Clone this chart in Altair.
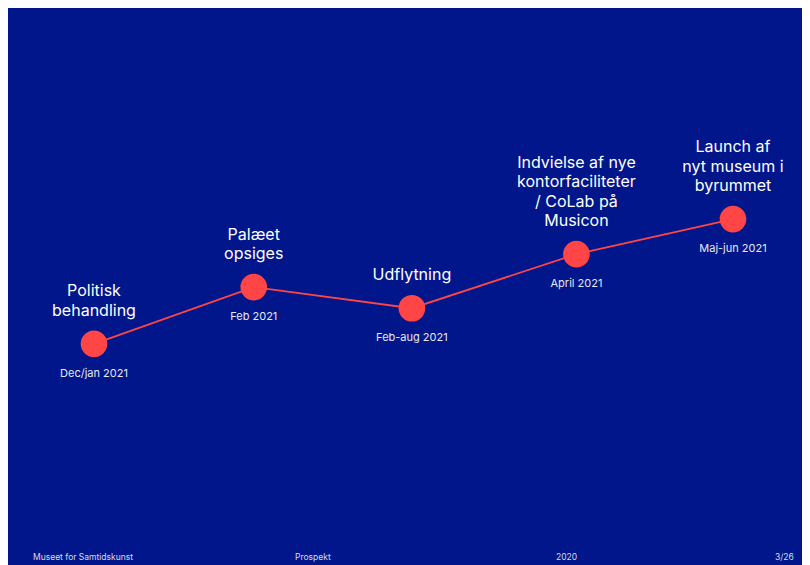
import altair as alt
import pandas as pd

# Milestones on the timeline
steps = [0, 1.0, 1.99, 3.02, 4]
progress = [39.7, 49.9, 46.1, 55.8, 62.1]
titles = [
    "Politisk\nbehandling",
    "Palæet\nopsiges",
    "Udflytning",
    "Indvielse af nye\nkontorfaciliteter\n/ CoLab på\nMusicon",
    "Launch af\nnyt museum i\nbyrummet",
]
dates = ["Dec/jan 2021", "Feb 2021", "Feb-aug 2021", "April 2021", "Maj-jun 2021"]

footer_texts = ["Museet for Samtidskunst", "Prospekt", "2020", "3/26"]

BG = "#00168A"
RED = "#FF4545"
FONT = "Inter"
LH = 19.5

df = pd.DataFrame({"step": steps, "progress": progress, "title": titles, "date": dates})
df["nlines"] = df["title"].str.count("\n") + 1
df["title"] = df["title"].str.split("\n")

x = alt.X("step:Q", scale=alt.Scale(domain=[-0.5383, 4.432], nice=False, zero=False), axis=None)
y = alt.Y("progress:Q", scale=alt.Scale(domain=[0, 100], nice=False), axis=None)

base = alt.Chart(df).encode(x=x, y=y)

line = base.mark_line(color=RED, strokeWidth=1.8)
points = base.mark_circle(color=RED, opacity=1, size=710)

title_layers = []
for n in sorted(set(df["nlines"])):
    title_layers.append(
        base.transform_filter(alt.datum.nlines == int(n)).mark_text(
            font=FONT, fontSize=16, color="white", align="center", baseline="bottom",
            dy=-25 - (int(n) - 1) * LH, lineHeight=LH
        ).encode(text="title")
    )

date_text = base.mark_text(
    font=FONT, fontSize=11, color="#E6E8F2", align="center", baseline="middle", dy=30
).encode(text="date")

footer_df = pd.DataFrame({"t": footer_texts, "px": [25, 287, 548, 767]})
footer = alt.Chart(footer_df).mark_text(
    font=FONT, fontSize=8.5, color="#D8DCEC", align="left", baseline="middle"
).encode(x=alt.X("px:Q", scale=None), y=alt.value(549), text="t")

chart = alt.layer(line, points, *title_layers, date_text, footer).properties(
    width=794, height=557, background=BG, padding=0,
    autosize=alt.AutoSizeParams(type="none"),
).configure_view(stroke=None)

chart.save("out.html", embed_options={"renderer": "svg", "actions": False})
